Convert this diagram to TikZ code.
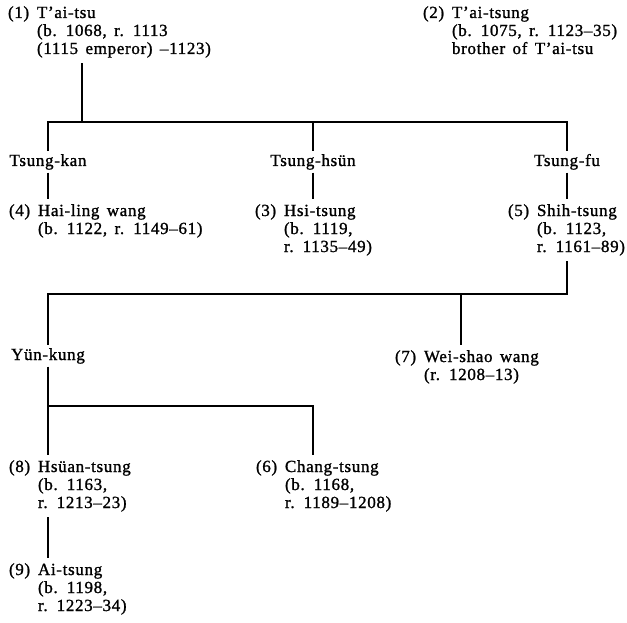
\documentclass[tikz,border=0pt]{standalone}
\usepackage{fontspec}
\setmainfont{Liberation Serif}[LetterSpace=4,WordSpace=1.5,FakeBold=1.2]
\newcommand\famentry[2]{\begin{tabular}[t]{@{}p{29pt}@{}l@{}}#1 & #2\end{tabular}}
\begin{document}
\begin{tikzpicture}[x=1pt,y=-1pt,
  tree/.style={line width=2.4pt},
  entry/.style={anchor=base west,inner sep=0pt,outer xsep=0pt,outer ysep=4pt,
    font=\fontsize{17}{18}\selectfont},
  nm/.style={anchor=base,inner sep=0pt,outer sep=3pt,
    font=\fontsize{17}{18}\selectfont}]
\useasboundingbox (0,0) rectangle (627,623);

% people and intermediate lineage names
\node[entry] (p1) at (8,18) {\famentry{(1)}{T'ai-tsu\\ & (b. 1068, r. 1113\\ & (1115 emperor) –1123)}};
\node[entry] (p2) at (423,18) {\famentry{(2)}{T'ai-tsung\\ & (b. 1075, r. 1123–35)\\ & brother of T'ai-tsu}};
\node[nm] (kan) at (48,166) {Tsung-kan};
\node[nm] (hsun) at (313,166) {Tsung-hsün};
\node[nm] (fu) at (567,166) {Tsung-fu};
\node[entry] (p4) at (9,216) {\famentry{(4)}{Hai-ling wang\\ & (b. 1122, r. 1149–61)}};
\node[entry] (p3) at (255,216) {\famentry{(3)}{Hsi-tsung\\ & (b. 1119,\\ & r. 1135–49)}};
\node[entry] (p5) at (508,216) {\famentry{(5)}{Shih-tsung\\ & (b. 1123,\\ & r. 1161–89)}};
\node[nm] (yun) at (48,360) {Yün-kung};
\node[entry] (p7) at (395,362) {\famentry{(7)}{Wei-shao wang\\ & (r. 1208–13)}};
\node[entry] (p8) at (9,472) {\famentry{(8)}{Hsüan-tsung\\ & (b. 1163,\\ & r. 1213–23)}};
\node[entry] (p6) at (256,472) {\famentry{(6)}{Chang-tsung\\ & (b. 1168,\\ & r. 1189–1208)}};
\node[entry] (p9) at (9,575) {\famentry{(9)}{Ai-tsung\\ & (b. 1198,\\ & r. 1223–34)}};

% bar heights and branch columns
\coordinate (top) at (82,122);
\coordinate (bar1) at (0,122);
\coordinate (bar2) at (0,294);
\coordinate (bar3) at (0,406);
\coordinate (wei) at (461,0);
\coordinate (chang) at (313,0);

% T'ai-tsu's sons
\draw[tree] (p1.south -| top) -- (top);
\draw[tree] (kan.north) |- (fu.north |- bar1) -- (fu.north);
\draw[tree] (hsun.north |- bar1) -- (hsun.north);
\draw[tree] (kan.south) -- (kan.south |- p4.north);
\draw[tree] (hsun.south) -- (hsun.south |- p3.north);
\draw[tree] (fu.south) -- (fu.south |- p5.north);

% Shih-tsung's sons
\draw[tree] (fu.south |- p5.south) |- (yun.north |- bar2) -- (yun.north);
\draw[tree] (wei |- bar2) -- (wei |- p7.north);

% Yün-kung's sons
\draw[tree] (yun.south) -- (yun.south |- p8.north);
\draw[tree] (yun.south |- bar3) -| (chang |- p6.north);
\draw[tree] (yun.south |- p8.south) -- (yun.south |- p9.north);
\end{tikzpicture}
\end{document}
